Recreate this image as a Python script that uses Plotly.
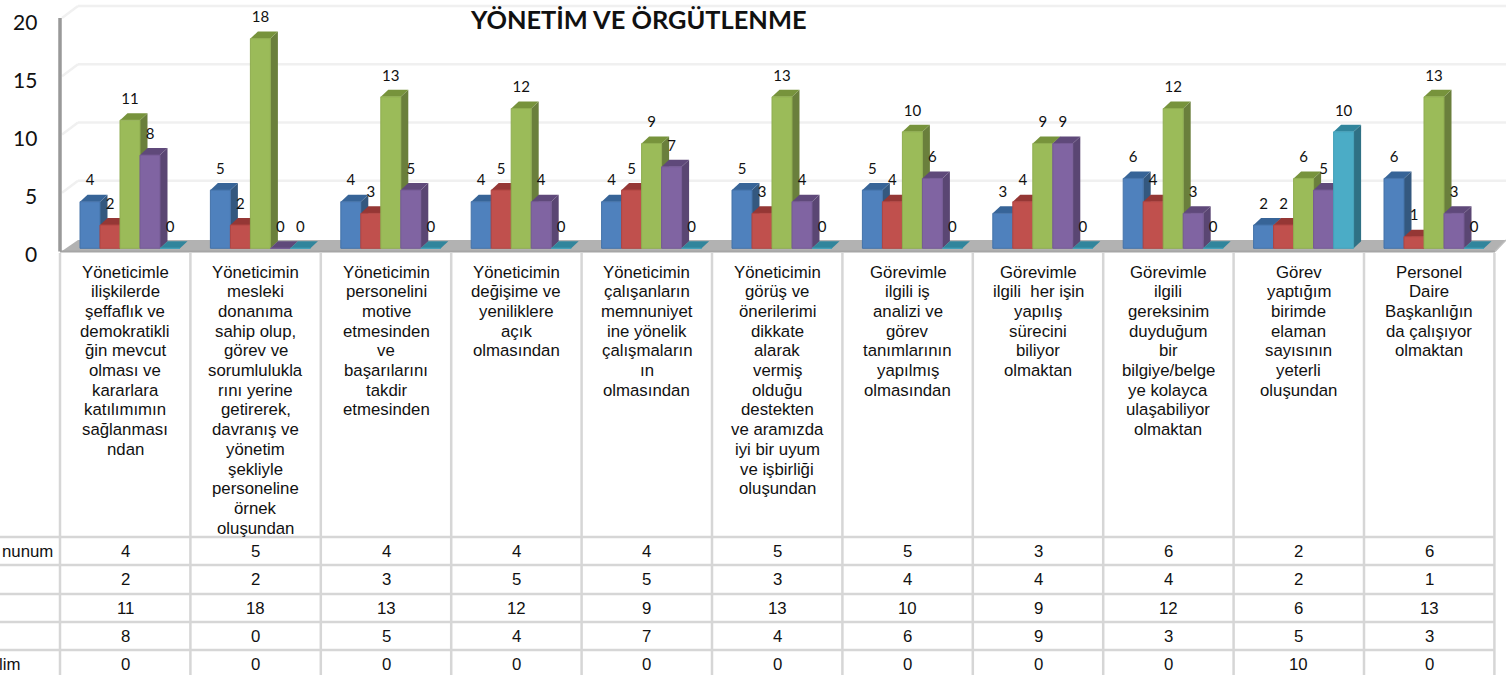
import plotly.graph_objects as go

title = "YÖNETİM VE ÖRGÜTLENME"
categories = [
    "Yöneticimle\nilişkilerde\nşeffaflık ve\ndemokratikli\nğin mevcut\nolması ve\nkararlara\nkatılımımın\nsağlanması\nndan",
    "Yöneticimin\nmesleki\ndonanıma\nsahip olup,\ngörev ve\nsorumlulukla\nrını yerine\ngetirerek,\ndavranış ve\nyönetim\nşekliyle\npersoneline\nörnek\noluşundan",
    "Yöneticimin\npersonelini\nmotive\netmesinden\nve\nbaşarılarını\ntakdir\netmesinden",
    "Yöneticimin\ndeğişime ve\nyeniliklere\naçık\nolmasından",
    "Yöneticimin\nçalışanların\nmemnuniyet\nine yönelik\nçalışmaların\nın\nolmasından",
    "Yöneticimin\ngörüş ve\nönerilerimi\ndikkate\nalarak\nvermiş\nolduğu\ndestekten\nve aramızda\niyi bir uyum\nve işbirliği\noluşundan",
    "Görevimle\nilgili iş\nanalizi ve\ngörev\ntanımlarının\nyapılmış\nolmasından",
    "Görevimle\nilgili  her işin\nyapılış\nsürecini\nbiliyor\nolmaktan",
    "Görevimle\nilgili\ngereksinim\nduyduğum\nbir\nbilgiye/belge\nye kolayca\nulaşabiliyor\nolmaktan",
    "Görev\nyaptığım\nbirimde\nelaman\nsayısının\nyeterli\noluşundan",
    "Personel\nDaire\nBaşkanlığın\nda çalışıyor\nolmaktan",
]
row_labels = ["nunum", "", "", "", "lim"]
series_1 = [4, 5, 4, 4, 4, 5, 5, 3, 6, 2, 6]
series_2 = [2, 2, 3, 5, 5, 3, 4, 4, 4, 2, 1]
series_3 = [11, 18, 13, 12, 9, 13, 10, 9, 12, 6, 13]
series_4 = [8, 0, 5, 4, 7, 4, 6, 9, 3, 5, 3]
series_5 = [0, 0, 0, 0, 0, 0, 0, 0, 0, 10, 0]
y_ticks = [0, 5, 10, 15, 20]

all_series = [series_1, series_2, series_3, series_4, series_5]
front = ["#4F81BD", "#C0504D", "#9BBB59", "#8064A2", "#4BACC6"]
side = ["#34587F", "#8A3836", "#6A7F3C", "#5A4673", "#2F7185"]
top = ["#376497", "#953735", "#77933C", "#5F497A", "#31859C"]
edge = ["#4472A8", "#B04543", "#8FAD50", "#745A94", "#43A0B9"]

W, H = 1506, 675
COL = 130.4
LEFT = 60
UNIT = 11.65
BASE = 248.3
BAR = 20
DX, DY = 7.5, 7


def xv(px):
    return (px - LEFT) / COL - 0.5


def yv(py):
    return (BASE - py) / UNIT


n = len(categories)
shapes = []
ann = []


def line(x0, y0, x1, y1, color, width):
    shapes.append(dict(type="line", xref="x", yref="y", x0=xv(x0), x1=xv(x1), y0=yv(y0), y1=yv(y1),
                       line=dict(color=color, width=width), layer="below"))


def poly(pts, color):
    path = "M " + " L ".join(f"{a},{b}" for a, b in pts) + " Z"
    shapes.append(dict(type="path", xref="x", yref="y", path=path, fillcolor=color,
                       line=dict(width=0), layer="below"))


# back wall gridlines with their short diagonal return to the axis
for t in y_ticks[1:]:
    back_y = BASE - (t + 0.8) * UNIT
    line(78, back_y, W, back_y, "#F0F0F0", 2.5)
    line(62, back_y + 12, 78, back_y, "#F0F0F0", 2.5)

# floor
poly([(xv(62), yv(251)), (xv(78), yv(240)), (xv(1506), yv(240)), (xv(1495), yv(251.5))], "#B2B2B2")

# table grid
row_edges = [537, 565, 594, 622, 650]
for k in range(n + 1):
    vx = LEFT + k * COL
    line(vx, 253, vx, 675, "#D6D6D6", 2.5)
for ry in row_edges:
    line(0, ry, LEFT + n * COL, ry, "#D6D6D6", 2.5)

# front edge and axis
line(60, 251.5, 1495, 251.5, "#A6A6A6", 2)
line(1495, 251.5, 1506, 240, "#BDBDBD", 1.5)
line(60, 18, 60, 251.5, "#999999", 3.5)

fig = go.Figure()
for s, vals in enumerate(all_series):
    fig.add_trace(go.Bar(
        x=list(range(n)), y=vals, width=BAR / COL,
        offset=(20 + s * BAR) / COL - 0.5,
        marker=dict(color=front[s], line=dict(color=edge[s], width=1)),
        hoverinfo="skip", showlegend=False,
    ))
    dxv, dyv = DX / COL, DY / UNIT
    for c, v in enumerate(vals):
        x0 = c + (20 + s * BAR) / COL - 0.5
        x1 = x0 + BAR / COL
        poly([(x1, 0), (x1 + dxv, dyv), (x1 + dxv, v + dyv), (x1, v)], side[s])
        poly([(x0, v), (x0 + dxv, v + dyv), (x1 + dxv, v + dyv), (x1, v)], top[s])

# data labels
for s, vals in enumerate(all_series):
    fig.add_trace(go.Scatter(
        x=[c + (20 + s * BAR + BAR / 2) / COL - 0.5 for c in range(n)],
        y=[v + 20 / UNIT for v in vals],
        text=[str(v) for v in vals], mode="text", textposition="middle center",
        textfont=dict(family="Lato", size=15, color="#111111"),
        hoverinfo="skip", showlegend=False,
    ))

# value axis labels
for t in y_ticks:
    ann.append(dict(x=xv(38.5), y=yv(253 - t * 11.6), text=str(t), xanchor="right", yanchor="middle",
                    showarrow=False, font=dict(family="Lato", size=21, color="#111111")))

# category text
for c, cat in enumerate(categories):
    for i, ln in enumerate(cat.split("\n")):
        ann.append(dict(x=c, y=yv(272 + i * 19.7), text=ln.replace("  ", "&nbsp; "), xanchor="center",
                        yanchor="middle", showarrow=False,
                        font=dict(family="Liberation Sans", size=16.8, color="#111111")))

# table rows
row_centers = [551, 579, 608, 636, 664]
for s, vals in enumerate(all_series):
    for c, v in enumerate(vals):
        ann.append(dict(x=c, y=yv(row_centers[s]), text=str(v), xanchor="center", yanchor="middle",
                        showarrow=False, font=dict(family="Liberation Sans", size=16.8, color="#111111")))
label_right = [55, None, None, None, 22]
for s, lab in enumerate(row_labels):
    if lab:
        ann.append(dict(x=xv(label_right[s]), y=yv(row_centers[s]), text=lab, xanchor="right", yanchor="middle",
                        showarrow=False, font=dict(family="Liberation Sans", size=16.8, color="#111111")))

ann.append(dict(x=xv(638), y=yv(19), text=f"<b>{title}</b>", xanchor="center", yanchor="middle", showarrow=False,
                font=dict(family="Lato", size=25.4, color="#111111")))

fig.update_layout(
    width=W, height=H, margin=dict(l=0, r=0, t=0, b=0, pad=0), autosize=False,
    paper_bgcolor="white", plot_bgcolor="white", barmode="overlay", showlegend=False,
    xaxis=dict(range=[xv(0), xv(W)], visible=False, fixedrange=True),
    yaxis=dict(range=[yv(H), yv(0)], visible=False, fixedrange=True),
    shapes=shapes, annotations=ann,
)
fig.write_html("out.html", config=dict(displayModeBar=False),
               post_script="document.body.style.margin='0';document.body.style.overflow='hidden';")
